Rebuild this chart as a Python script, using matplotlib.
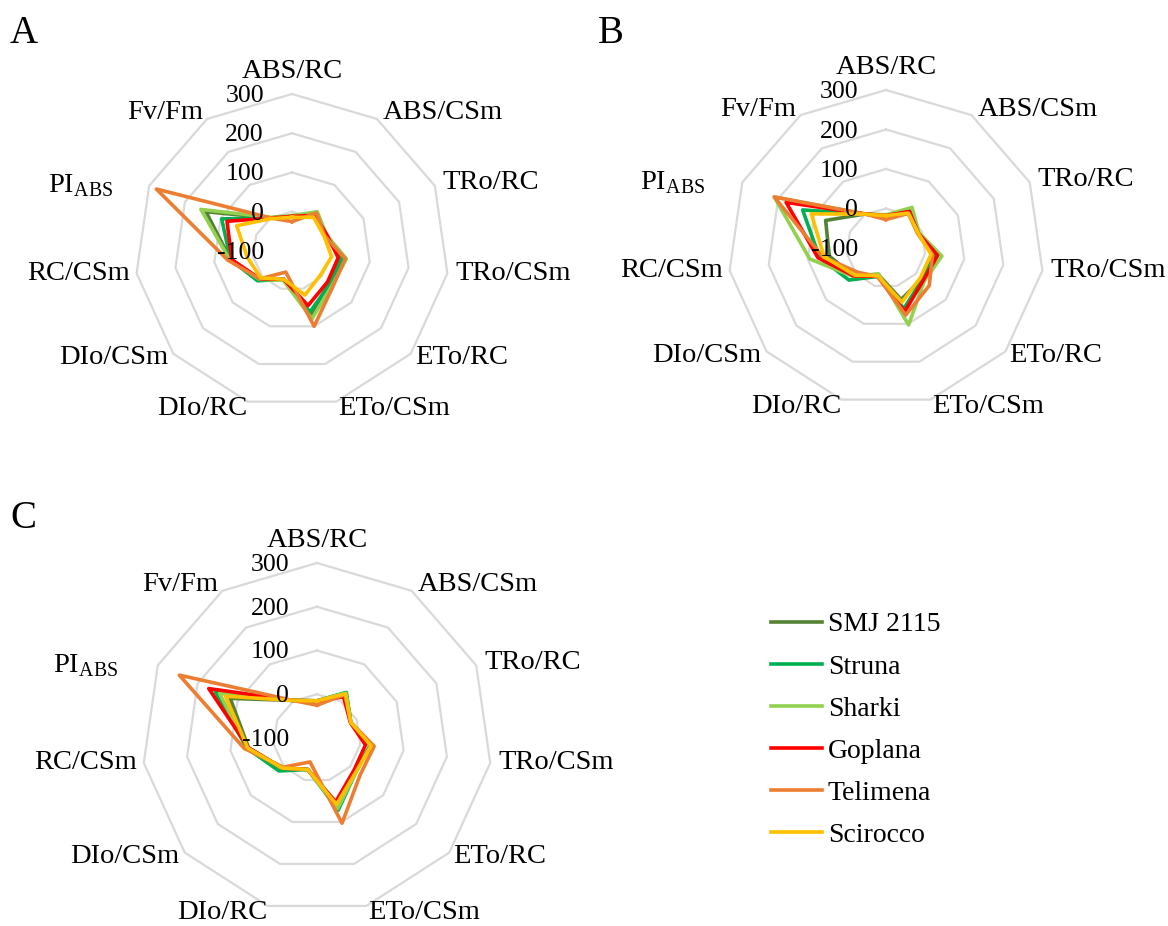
import numpy as np
import matplotlib.pyplot as plt

plt.rcParams['font.family'] = 'Liberation Serif'
plt.rcParams['mathtext.fontset'] = 'custom'
plt.rcParams['mathtext.rm'] = 'Liberation Serif'

params = ['ABS/RC', 'ABS/CSm', 'TRo/RC', 'TRo/CSm', 'ETo/RC', 'ETo/CSm',
          'DIo/RC', 'DIo/CSm', 'RC/CSm', 'PI$_{\\rm ABS}$', 'Fv/Fm']
cultivars = ['SMJ 2115', 'Struna', 'Sharki', 'Goplana', 'Telimena', 'Scirocco']
colors = ['#548235', '#00b050', '#92d050', '#ff0000', '#ed7d31', '#ffc000']
ticks = [-100, 0, 100, 200, 300]

# % change vs control, one row per cultivar
panel_a = [
    [-12, 15, -5, 27, 25, 70, -25, 10, 58, 141, 0],
    [-12, 12, -5, 30, 28, 62, -25, 16, 58, 97, 0],
    [-10, 19, -3, 40, 35, 80, -22, 10, 60, 155, 2],
    [-12, 8, -2, 19, 20, 45, -25, 8, 55, 82, 0],
    [-25, 15, -8, 37, 38, 100, -44, 8, 65, 280, 0],
    [-14, 2, -10, 2, -5, 17, -25, 5, 15, 55, -2],
]
panel_b = [
    [-18, 12, -10, 23, 20, 36, -30, 8, 45, 68, 2],
    [-18, 15, -10, 25, 22, 60, -25, 24, 70, 132, 2],
    [-16, 22, -8, 43, 28, 103, -32, 10, 95, 211, 3],
    [-18, 10, -10, 32, 25, 68, -25, 8, 74, 178, 3],
    [-28, 4, -12, 19, 45, 77, -25, -6, 61, 211, 3],
    [-18, 5, -10, 15, 15, 43, -27, 5, 58, 108, 2],
]
panel_c = [
    [-15, 22, -15, 23, 16, 62, -25, 5, 58, 118, 2],
    [-15, 24, -15, 23, 18, 72, -25, 15, 62, 156, 2],
    [-15, 22, -15, 25, 18, 68, -25, 5, 60, 145, 2],
    [-15, 12, -16, 12, 12, 52, -25, 5, 58, 172, 2],
    [-25, 18, -15, 32, 30, 103, -43, 2, 68, 246, 2],
    [-15, 20, -15, 25, 18, 58, -25, 5, 60, 130, 2],
]

# label placement around the outer ring: (dx, dy) pixels, ha, va
label_pos = [((0, 10), 'center', 'bottom'), ((6, 6), 'left', 'center'),
             ((8, 3), 'left', 'center'), ((8, 0), 'left', 'center'),
             ((4, -4), 'left', 'center'), ((2, -7), 'left', 'center'),
             ((0, -7), 'right', 'center'), ((-5, -4), 'right', 'center'),
             ((-7, 0), 'right', 'center'), ((-36, 0), 'right', 'center'),
             ((-4, 6), 'right', 'center')]

theta = np.linspace(0, 2 * np.pi, len(params), endpoint=False)
tc = np.append(theta, theta[0])

fig = plt.figure(figsize=(11.68, 9.26), dpi=100)


def radar(rect, data, pi_dx):
    ax = fig.add_axes(rect, projection='polar')
    ax.set_theta_zero_location('N')
    ax.set_theta_direction(-1)
    ax.set_ylim(-100, 300)
    ax.grid(False)
    ax.spines['polar'].set_visible(False)
    ax.set_xticks([])
    ax.set_yticks([])
    ax.patch.set_alpha(0)
    for v in ticks[1:]:
        ax.plot(tc, [v] * len(tc), color='#d9d9d9', lw=1.6, zorder=1, clip_on=False)
    lines = []
    for vals, c in zip(data, colors):
        ln, = ax.plot(tc, vals + vals[:1], color=c, lw=2.6, zorder=3, clip_on=False)
        lines.append(ln)
    for v in ticks:
        ax.annotate(str(v), xy=(0, v), xytext=(-28, -2), textcoords='offset pixels',
                    ha='right', va='center', fontsize=18.5, zorder=5)
    for i, (lab, (off, ha, va)) in enumerate(zip(params, label_pos)):
        if i == 9:
            off = (pi_dx, off[1])
        ax.annotate(lab, xy=(theta[i], 300), xytext=off, textcoords='offset pixels',
                    ha=ha, va=va, fontsize=20.5, annotation_clip=False)
    return lines


radar([135 / 1168, 1 - 408 / 926, 314 / 1168, 314 / 926], panel_a, -36)
radar([728 / 1168, 1 - 406 / 926, 316 / 1168, 316 / 926], panel_b, -37)
lines = radar([142 / 1168, 1 - 913 / 926, 350 / 1168, 350 / 926], panel_c, -40)

fig.text(10 / 1168, 1 - 15 / 926, 'A', fontsize=28, va='top')
fig.text(598 / 1168, 1 - 15 / 926, 'B', fontsize=28, va='top')
fig.text(10 / 1168, 1 - 500 / 926, 'C', fontsize=28, va='top')

fig.legend(lines, cultivars, loc='upper left', bbox_to_anchor=(771 / 1168, 1 - 612 / 926),
           frameon=False, fontsize=20, handlelength=1.85, handletextpad=0.2,
           labelspacing=0.6, borderpad=0, borderaxespad=0)

fig.savefig('out.png', dpi=100)
